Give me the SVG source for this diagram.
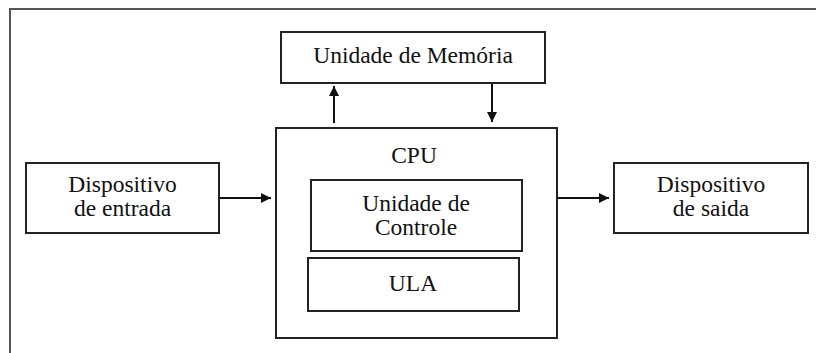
<svg xmlns="http://www.w3.org/2000/svg" width="816" height="353" viewBox="0 0 816 353">
<style>
.box{fill:#fff;stroke:#222;stroke-width:2}
.t{font-family:'Liberation Serif','Times New Roman',serif;font-size:23.5px;fill:#111;text-anchor:middle}
.c{stroke:#111;stroke-width:2;fill:none}
</style>
<defs>
<marker id="ah" viewBox="0 0 10 10" refX="10" refY="5" markerWidth="10" markerHeight="10" markerUnits="userSpaceOnUse" orient="auto">
<path d="M0,0 L10,5 L0,10 z" fill="#111"/>
</marker>
</defs>
<rect width="816" height="353" fill="#fff"/>
<path d="M10,353 V9 H816" fill="none" stroke="#555" stroke-width="2"/>
<g id="memoria">
<rect class="box" x="281" y="32" width="264" height="51"/>
<text class="t" x="413" y="63">Unidade de Memória</text>
</g>
<g id="cpu">
<rect class="box" x="276" y="128" width="281" height="210"/>
<text class="t" x="414" y="163">CPU</text>
</g>
<g id="controle">
<rect class="box" x="311" y="180" width="211" height="71"/>
<text class="t" x="416" y="211">Unidade de</text>
<text class="t" x="416" y="235">Controle</text>
</g>
<g id="ula">
<rect class="box" x="308" y="258" width="211" height="53"/>
<text class="t" x="413" y="291">ULA</text>
</g>
<g id="entrada">
<rect class="box" x="26" y="163" width="193" height="70"/>
<text class="t" x="122.5" y="192">Dispositivo</text>
<text class="t" x="122.5" y="216">de entrada</text>
</g>
<g id="saida">
<rect class="box" x="614" y="163" width="194" height="70"/>
<text class="t" x="711" y="192">Dispositivo</text>
<text class="t" x="711" y="216">de saida</text>
</g>
<g id="connectors">
<line class="c" x1="219" y1="198" x2="271" y2="198" marker-end="url(#ah)"/>
<line class="c" x1="557" y1="198" x2="609" y2="198" marker-end="url(#ah)"/>
<line class="c" x1="334" y1="123" x2="334" y2="86" marker-end="url(#ah)"/>
<line class="c" x1="492" y1="84" x2="492" y2="122" marker-end="url(#ah)"/>
</g>
</svg>
